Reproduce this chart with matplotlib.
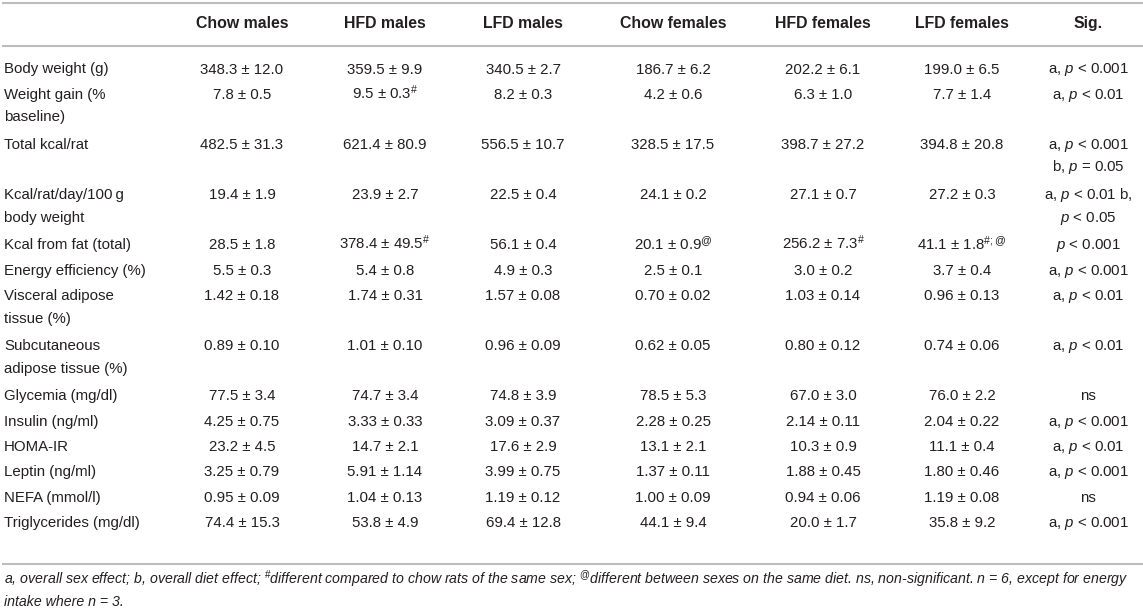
import matplotlib
matplotlib.use('Agg')
import matplotlib.pyplot as plt

plt.rcParams['font.family'] = ['Liberation Sans', 'DejaVu Sans']
plt.rcParams['mathtext.fontset'] = 'custom'
plt.rcParams['mathtext.rm'] = 'Liberation Sans'
plt.rcParams['mathtext.it'] = 'Liberation Sans:italic'
plt.rcParams['mathtext.bf'] = 'Liberation Sans:bold'

# table content
columns = ['Chow males', 'HFD males', 'LFD males', 'Chow females',
           'HFD females', 'LFD females', 'Sig.']

row_labels = ['Body weight (g)', 'Weight gain (%\nbaseline)', 'Total kcal/rat',
              'Kcal/rat/day/100\u2009g\nbody weight', 'Kcal from fat (total)',
              'Energy efficiency (%)', 'Visceral adipose\ntissue (%)',
              'Subcutaneous\nadipose tissue (%)', 'Glycemia (mg/dl)',
              'Insulin (ng/ml)', 'HOMA-IR', 'Leptin (ng/ml)', 'NEFA (mmol/l)',
              'Triglycerides (mg/dl)']

chow_males = ['348.3 ± 12.0', '7.8 ± 0.5', '482.5 ± 31.3', '19.4 ± 1.9',
              '28.5 ± 1.8', '5.5 ± 0.3', '1.42 ± 0.18', '0.89 ± 0.10',
              '77.5 ± 3.4', '4.25 ± 0.75', '23.2 ± 4.5', '3.25 ± 0.79',
              '0.95 ± 0.09', '74.4 ± 15.3']
hfd_males = ['359.5 ± 9.9', r'9.5 ± 0.3$^{\#}$', '621.4 ± 80.9', '23.9 ± 2.7',
             r'378.4 ± 49.5$^{\#}$', '5.4 ± 0.8', '1.74 ± 0.31', '1.01 ± 0.10',
             '74.7 ± 3.4', '3.33 ± 0.33', '14.7 ± 2.1', '5.91 ± 1.14',
             '1.04 ± 0.13', '53.8 ± 4.9']
lfd_males = ['340.5 ± 2.7', '8.2 ± 0.3', '556.5 ± 10.7', '22.5 ± 0.4',
             '56.1 ± 0.4', '4.9 ± 0.3', '1.57 ± 0.08', '0.96 ± 0.09',
             '74.8 ± 3.9', '3.09 ± 0.37', '17.6 ± 2.9', '3.99 ± 0.75',
             '1.19 ± 0.12', '69.4 ± 12.8']
chow_females = ['186.7 ± 6.2', '4.2 ± 0.6', '328.5 ± 17.5', '24.1 ± 0.2',
                r'20.1 ± 0.9$^{@}$', '2.5 ± 0.1', '0.70 ± 0.02', '0.62 ± 0.05',
                '78.5 ± 5.3', '2.28 ± 0.25', '13.1 ± 2.1', '1.37 ± 0.11',
                '1.00 ± 0.09', '44.1 ± 9.4']
hfd_females = ['202.2 ± 6.1', '6.3 ± 1.0', '398.7 ± 27.2', '27.1 ± 0.7',
               r'256.2 ± 7.3$^{\#}$', '3.0 ± 0.2', '1.03 ± 0.14', '0.80 ± 0.12',
               '67.0 ± 3.0', '2.14 ± 0.11', '10.3 ± 0.9', '1.88 ± 0.45',
               '0.94 ± 0.06', '20.0 ± 1.7']
lfd_females = ['199.0 ± 6.5', '7.7 ± 1.4', '394.8 ± 20.8', '27.2 ± 0.3',
               r'41.1 ± 1.8$^{\#;@}$', '3.7 ± 0.4', '0.96 ± 0.13', '0.74 ± 0.06',
               '76.0 ± 2.2', '2.04 ± 0.22', '11.1 ± 0.4', '1.80 ± 0.46',
               '1.19 ± 0.08', '35.8 ± 9.2']
sig = ['a, $p$ < 0.001', 'a, $p$ < 0.01', 'a, $p$ < 0.001\nb, $p$ = 0.05',
       'a, $p$ < 0.01 b,\n$p$ < 0.05', '$p$ < 0.001', 'a, $p$ < 0.001',
       'a, $p$ < 0.01', 'a, $p$ < 0.01', 'ns', 'a, $p$ < 0.001', 'a, $p$ < 0.01',
       'a, $p$ < 0.001', 'ns', 'a, $p$ < 0.001']

footnote = [r'a, overall sex effect; b, overall diet effect; $^{\#}$different compared to chow rats '
            r'of the same sex; $^{@}$different between sexes on the same diet. ns, non-significant. '
            r'n = 6, except for energy',
            'intake where n = 3.']

data_cols = [chow_males, hfd_males, lfd_males, chow_females, hfd_females,
             lfd_females, sig]

# layout (pixels)
W, H = 1143, 611
col_x = [242, 385, 523, 673, 823, 962, 1088]
left_x = 4
first_y = 69
single_h = 25.3
double_h = 50.2
line_h = 22.5
fs = 10.8
txt = '#231f20'
rule = '#bdbdbd'

fig = plt.figure(figsize=(W / 100, H / 100), dpi=100)
ax = fig.add_axes([0, 0, 1, 1])
ax.set_xlim(0, W)
ax.set_ylim(H, 0)
ax.axis('off')

# rules
for y in [2.5, 45.5, 564]:
    ax.plot([2, W], [y, y], color=rule, lw=1.5, solid_capstyle='butt')

# header
for x, name in zip(col_x, columns):
    ax.text(x, 28, name, ha='center', va='baseline', fontsize=11.4,
            fontweight='bold', color=txt)

# body
y = first_y
for i, label in enumerate(row_labels):
    cells = [label] + [c[i] for c in data_cols]
    n = max(len(c.split('\n')) for c in cells)
    for j, cell in enumerate(cells):
        for k, line in enumerate(cell.split('\n')):
            yy = y + k * line_h + 4.5
            if j == 0:
                ax.text(left_x, yy, line, ha='left', va='baseline', fontsize=fs, color=txt)
            else:
                ax.text(col_x[j - 1], yy, line, ha='center', va='baseline',
                        fontsize=fs, color=txt)
    y += single_h if n == 1 else double_h

# footnote
for k, line in enumerate(footnote):
    ax.text(left_x, 584 + k * 21.5, line, ha='left', va='baseline', fontsize=10.2,
            fontstyle='italic', color=txt)

fig.savefig('out.png', dpi=100)
